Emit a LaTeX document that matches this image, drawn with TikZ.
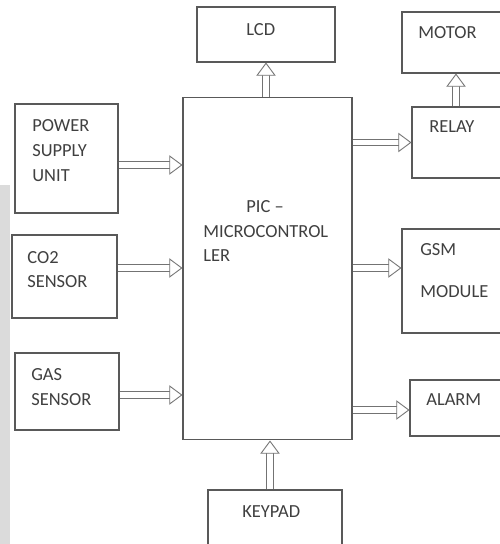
\documentclass[tikz,border=0pt]{standalone}
\usepackage{fontspec}
\setmainfont{Carlito}
\usetikzlibrary{arrows.meta}

\tikzset{
  box/.style={draw=black!65, line width=0.6pt, rectangle, inner sep=0pt},
  txt/.style={anchor=west, align=left, inner sep=0pt, text=black!75,
    font=\fontsize{10.5}{14}\selectfont},
  hollow/.style={draw=black!55, line width=0.5pt, double=white, double distance=3pt,
    -{Triangle[length=7.5pt, width=11pt, fill=white]}}
}

\begin{document}
\begin{tikzpicture}[x=0.02cm, y=-0.02cm]
\clip (0,0) rectangle (500,544);
\fill[white] (0,0) rectangle (500,544);
\fill[black!14] (0,185) rectangle (10,544);

% boxes
\node[box, minimum width=2.76cm, minimum height=1.10cm] (lcd) at (266,34.5) {};
\node[box, minimum width=2.16cm, minimum height=1.22cm] (motor) at (456,42.5) {};
\node[box, minimum width=3.38cm, minimum height=6.86cm] (pic) at (267.5,268.5) {};
\node[box, minimum width=2.06cm, minimum height=2.18cm] (psu) at (66.5,158.5) {};
\node[box, minimum width=2.10cm, minimum height=1.66cm] (co2) at (64.5,276.5) {};
\node[box, minimum width=2.08cm, minimum height=1.54cm] (gas) at (67,391.5) {};
\node[box, minimum width=1.96cm, minimum height=1.42cm] (relay) at (461,142.5) {};
\node[box, minimum width=2.16cm, minimum height=2.08cm] (gsm) at (456,281) {};
\node[box, minimum width=2.00cm, minimum height=1.12cm] (alarm) at (460,408) {};
\node[box, minimum width=2.68cm, minimum height=1.40cm] (keypad) at (275,525) {};

% labels
\node[txt] (lcdtxt) at (246,30) {LCD};
\node[txt] (motortxt) at (418,33) {MOTOR};
\node[txt, anchor=center] (pictxt) at (265,207) {PIC –};
\node[txt, anchor=north west] (mctxt) at (203,225) {MICROCONTROL\\LER};
\node[txt] (psutxt) at (32,150.5) {POWER\\SUPPLY\\UNIT};
\node[txt] (co2txt) at (27,269.5) {CO2\\SENSOR};
\node[txt] (gastxt) at (31,387) {GAS\\SENSOR};
\node[txt] (relaytxt) at (429,127) {RELAY};
\node[txt] (gsmtxt) at (420,270.5) {GSM\\[10pt]MODULE};
\node[txt] (alarmtxt) at (426,400) {ALARM};
\node[txt] (keypadtxt) at (242,512) {KEYPAD};

% arrows
\draw[hollow] (pic.north -| lcd) -- (lcd.south);
\draw[hollow] (relay.north -| motor) -- (motor.south);
\draw[hollow] ([yshift=-0.13cm]psu.east) -- ([yshift=-0.13cm]psu.east -| pic.west);
\draw[hollow] ([yshift=0.17cm]co2.east) -- ([yshift=0.17cm]co2.east -| pic.west);
\draw[hollow] ([yshift=-0.07cm]gas.east) -- ([yshift=-0.07cm]gas.east -| pic.west);
\draw[hollow] (relay.west -| pic.east) -- (relay.west);
\draw[hollow] ([yshift=0.26cm]gsm.west -| pic.east) -- ([yshift=0.26cm]gsm.west);
\draw[hollow] ([yshift=-0.04cm]alarm.west -| pic.east) -- ([yshift=-0.04cm]alarm.west);
\draw[hollow] (keypad.north -| 270,0) -- (pic.south -| 270,0);
\end{tikzpicture}
\end{document}
